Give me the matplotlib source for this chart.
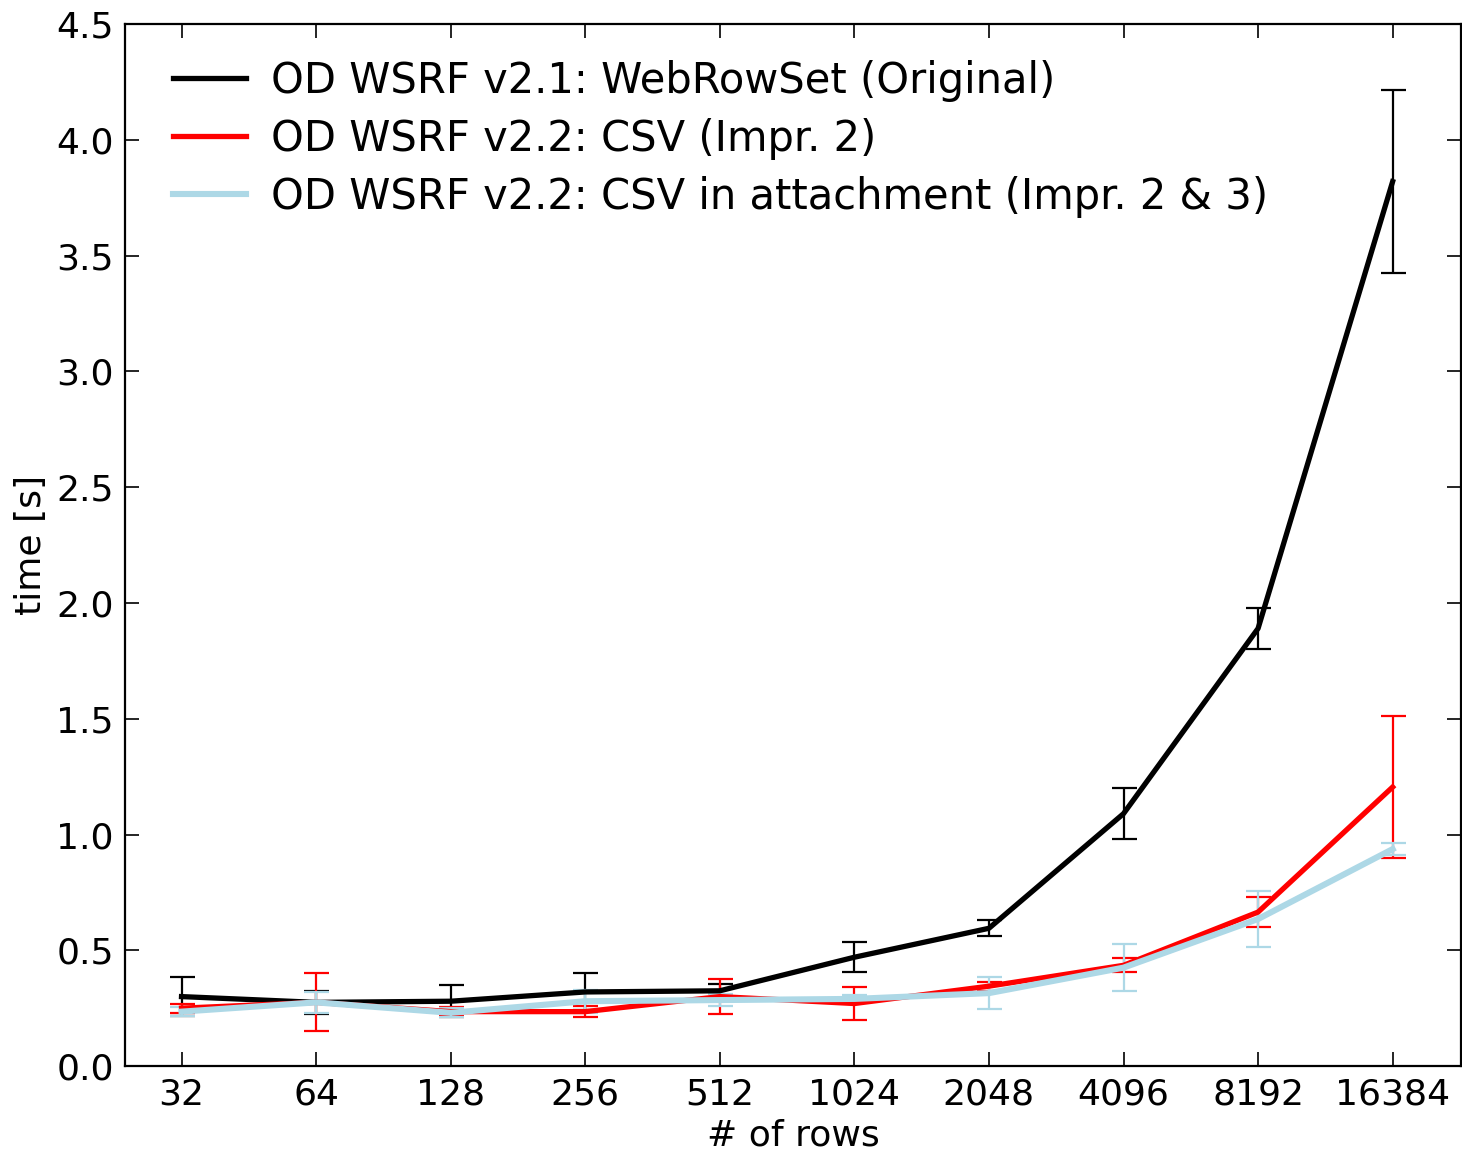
import matplotlib
matplotlib.use("Agg")
import matplotlib.pyplot as plt
import numpy as np

rows = ["32", "64", "128", "256", "512", "1024", "2048", "4096", "8192", "16384"]

wrs_mean = [0.30, 0.275, 0.28, 0.32, 0.325, 0.47, 0.595, 1.09, 1.89, 3.82]
wrs_err = [0.085, 0.05, 0.07, 0.08, 0.03, 0.065, 0.035, 0.11, 0.09, 0.395]

csv_mean = [0.25, 0.275, 0.235, 0.235, 0.30, 0.27, 0.345, 0.435, 0.665, 1.205]
csv_err = [0.02, 0.125, 0.02, 0.025, 0.075, 0.07, 0.02, 0.03, 0.065, 0.305]

att_mean = [0.235, 0.275, 0.23, 0.28, 0.285, 0.29, 0.315, 0.425, 0.635, 0.937]
att_err = [0.02, 0.045, 0.02, 0.05, 0.025, 0.015, 0.07, 0.10, 0.12, 0.025]

labels = ["OD WSRF v2.1: WebRowSet (Original)",
          "OD WSRF v2.2: CSV (Impr. 2)",
          "OD WSRF v2.2: CSV in attachment (Impr. 2 & 3)"]

x = np.arange(len(rows))

fig = plt.figure(figsize=(14.62, 11.5), dpi=100)
ax = fig.add_axes([0.0855, 0.073, 0.914, 0.906])

ax.errorbar(x, wrs_mean, yerr=wrs_err, color="black", lw=3.8, elinewidth=1.6,
            capsize=9, capthick=1.6, label=labels[0])
ax.errorbar(x, csv_mean, yerr=csv_err, color="red", lw=3.8, elinewidth=1.6,
            capsize=9, capthick=1.6, label=labels[1])
ax.errorbar(x, att_mean, yerr=att_err, color="lightblue", lw=4.4, elinewidth=1.6,
            capsize=9, capthick=1.6, label=labels[2])

ax.set_xlim(-0.42, 9.51)
ax.set_ylim(0, 4.5)
ax.set_xticks(x)
ax.set_xticklabels(rows)
ax.set_yticks(np.arange(0, 4.51, 0.5))
ax.tick_params(direction="in", length=10, width=1.2, top=True, right=True,
               labelsize=26, pad=8)
for s in ax.spines.values():
    s.set_linewidth(1.6)

ax.set_xlabel("# of rows", fontsize=26, labelpad=5)
ax.set_ylabel("time [s]", fontsize=26, labelpad=6)

handles, labs = ax.get_legend_handles_labels()
handles = [h[0] for h in handles]
ax.legend(handles, labs, loc="upper left", bbox_to_anchor=(0.0232, 0.982),
          frameon=False, fontsize=30, handlelength=1.75, handletextpad=0.6,
          labelspacing=0.39, borderaxespad=0)

fig.savefig("out.png", dpi=100)
